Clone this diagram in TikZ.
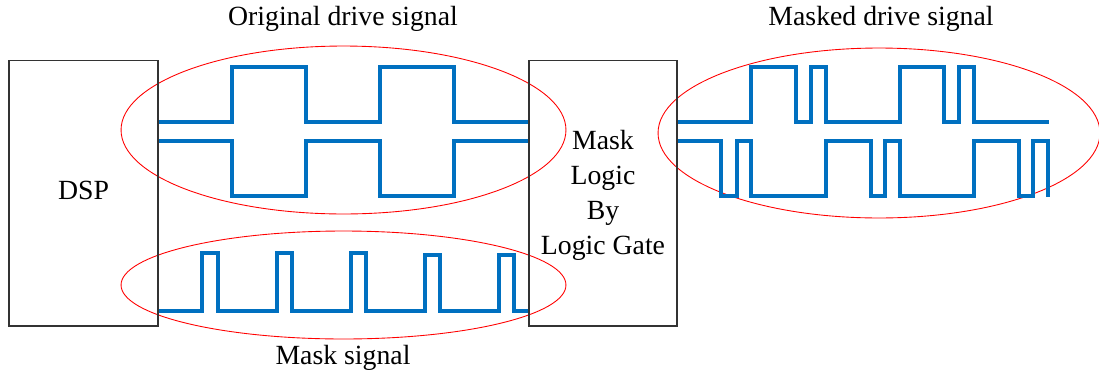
\documentclass[tikz,border=0pt]{standalone}
\usepackage{fontspec}
\setmainfont{Liberation Serif}
\usetikzlibrary{positioning, shapes.geometric}

\definecolor{wavecol}{RGB}{0,112,192}

\begin{document}
\begin{tikzpicture}[
  x=0.02cm, y=-0.02cm,
  block/.style={rectangle, draw=black!80, line width=0.6pt, inner sep=0pt,
                minimum height=5.32cm, align=center, font=\fontsize{15.6}{19.9}\selectfont},
  group/.style={ellipse, draw=red, line width=0.5pt, inner sep=0pt},
  wave/.style={draw=wavecol, line width=2pt},
  lbl/.style={font=\fontsize{15.8}{18}\selectfont}
]
  \useasboundingbox (0,0) rectangle (1099,376);

  \node[group, minimum width=8.9cm, minimum height=3.36cm] (origgrp) at (343.5,130) {};
  \node[group, minimum width=8.9cm, minimum height=2.16cm] (maskgrp) at (343.5,285) {};
  \node[group, minimum width=8.84cm, minimum height=3.4cm] (outgrp) at (879,133) {};

  \node[block, minimum width=2.98cm] (dsp) at (83.5,193) {};
  \node[lbl] (dsptxt) at (83.5,190) {DSP};
  \node[block, minimum width=2.96cm] (logic) at (603,193) {};
  \node[lbl, align=center, font=\fontsize{15.8}{19.9}\selectfont] (logictxt) at (603,195)
       {Mask\\Logic\\By\\Logic Gate};

  \node[lbl] (origlbl) at (343,19) {Original drive signal};
  \node[lbl] (outlbl) at (881,19) {Masked drive signal};
  \node[lbl] (masklbl) at (343,358) {Mask signal};

  % original drive signal
  \draw[wave] (dsp.east |- 0,122) -| (232,67) -| (306,122) -| (380,67) -| (454,122)
              -- (logic.west |- 0,122);
  \draw[wave] (dsp.east |- 0,141) -| (232,196) -| (306,141) -| (380,196) -| (454,141)
              -- (logic.west |- 0,141);

  % mask signal
  \draw[wave] (dsp.east |- 0,311) -| (202,253) -| (218,311) -| (277,253) -| (292,311)
              -| (351,253) -| (366,311) -| (425,255) -| (440,311) -| (499,255)
              -| (514,311) -- (logic.west |- 0,311);

  % masked drive signal
  \draw[wave] (logic.east |- 0,122) -| (751,67) -| (796,122) -| (811,67) -| (826,122)
              -| (900,67) -| (944,122) -| (959,67) -| (974,122) -- (1049,122);
  \draw[wave] (logic.east |- 0,141) -| (721,196) -| (737,141) -| (751,196) -| (826,141)
              -| (871,196) -| (885,141) -| (900,196) -| (974,141) -| (1019,196)
              -| (1033,141) -| (1048,197);
\end{tikzpicture}
\end{document}
